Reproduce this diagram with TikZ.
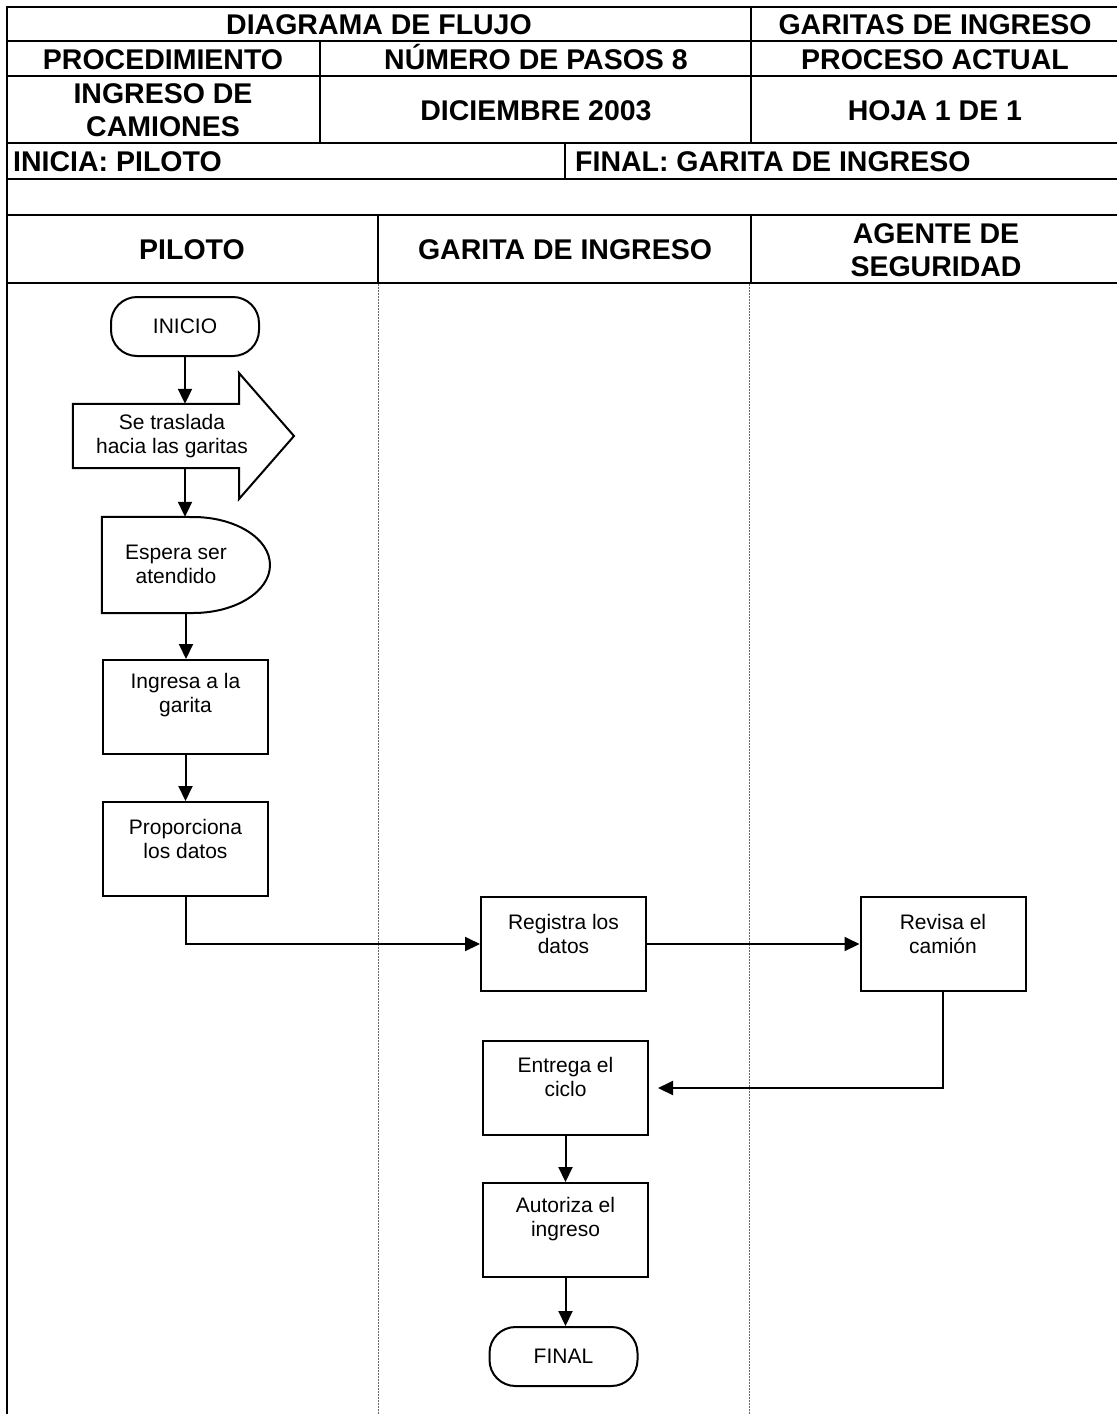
\documentclass[tikz,border=0pt]{standalone}
\usepackage{fontspec}
\setmainfont{Liberation Sans}
\usetikzlibrary{arrows.meta}
\begin{document}
\begin{tikzpicture}[x=1pt,y=-1pt,
 hdr/.style={font=\fontsize{28.5}{33}\selectfont\bfseries, align=center, inner sep=0pt},
 hdrone/.style={hdr, text height=20.4pt, text depth=0pt},
 tbl/.style={line width=2.6pt},
 box/.style={draw, line width=2pt, minimum width=165pt, minimum height=94pt, inner sep=0pt},
 txt/.style={font=\fontsize{21}{24}\selectfont, align=center, inner sep=0pt},
 term/.style={draw, line width=2pt, rounded corners=26pt, minimum width=148pt, minimum height=59pt, font=\fontsize{21}{24}\selectfont, inner sep=0pt},
 conn/.style={line width=2pt, -{Triangle[length=15pt,width=14pt]}},
 lane/.style={line width=0.8pt, dash pattern=on 1.5pt off 1.5pt, gray!80!black}
]
\useasboundingbox (0,0) rectangle (1117,1414);
% table lines
\foreach \yy in {7,41,76,143,179,215,283}{\draw[tbl] (7,\yy) -- (1117,\yy);}
\draw[tbl] (7,5.7) -- (7,1414);
\draw[tbl] (751,7) -- (751,143);
\draw[tbl] (320,41) -- (320,143);
\draw[tbl] (565,143) -- (565,179);
\draw[tbl] (378,215) -- (378,283);
\draw[tbl] (751,215) -- (751,283);
% lanes
\draw[lane] (378,284) -- (378,1414);
\draw[lane] (749,284) -- (749,1414);
% header text
\node[hdrone] (h1) at (379,24) {DIAGRAMA DE FLUJO};
\node[hdrone] (h2) at (935,24) {GARITAS DE INGRESO};
\node[hdrone] (h3) at (163,59) {PROCEDIMIENTO};
\node[hdrone] (h4) at (536,59) {NÚMERO DE PASOS 8};
\node[hdrone] (h5) at (935,59) {PROCESO ACTUAL};
\node[hdr] (h6) at (163,110) {INGRESO DE\\CAMIONES};
\node[hdrone] (h7) at (536,110) {DICIEMBRE 2003};
\node[hdrone] (h8) at (935,110) {HOJA 1 DE 1};
\node[hdrone, anchor=west] (h9) at (13,161) {INICIA: PILOTO};
\node[hdrone, anchor=west] (h10) at (575,161) {FINAL: GARITA DE INGRESO};
\node[hdrone] (l1) at (192,249) {PILOTO};
\node[hdrone] (l2) at (565,249) {GARITA DE INGRESO};
\node[hdr] (l3) at (936,250) {AGENTE DE\\SEGURIDAD};
% flow
\node[term] (ini) at (185,326.5) {INICIO};
\node[minimum width=166pt, minimum height=64pt, inner sep=0pt] (trb) at (156,436) {};
\draw[line width=2pt, line join=miter] (trb.north west) -- (trb.north east) -- (239,373) -- (294,436) -- (239,499) -- (trb.south east) -- (trb.south west) -- cycle;
\node[txt] (trt) at (172,436) {Se traslada\\hacia las garitas};
\node[minimum width=168pt, minimum height=96pt, inner sep=0pt] (esp) at (186,565) {};
\draw[line width=2pt] (esp.south west) -- (esp.north west) -- (193,517) arc[start angle=90, end angle=-90, x radius=77pt, y radius=48pt] -- cycle;
\node[txt] (est) at (176,564) {Espera ser\\atendido};
\node[box] (ing) at (185.5,707) {};
\node[txt] (ingt) at ([yshift=12pt]ing.center) {Ingresa a la\\garita};
\node[box] (pro) at (185.5,849) {};
\node[txt] (prot) at ([yshift=10.5pt]pro.center) {Proporciona\\los datos};
\node[box] (reg) at (563.5,944) {};
\node[txt] (regt) at ([yshift=10.5pt]reg.center) {Registra los\\datos};
\node[box] (rev) at (943,944) {};
\node[txt] (revt) at ([yshift=10.5pt]rev.center) {Revisa el\\camión};
\node[box] (ent) at (565.5,1088) {};
\node[txt] (entt) at ([yshift=11pt]ent.center) {Entrega el\\ciclo};
\node[box] (aut) at (565.5,1230) {};
\node[txt] (autt) at ([yshift=10.5pt]aut.center) {Autoriza el\\ingreso};
\node[term] (fin) at (563.5,1356.5) {FINAL};
% connectors
\draw[conn] (ini.south) -- (ini.south |- trb.north);
\draw[conn] (ini.south |- trb.south) -- (ini.south |- esp.north);
\draw[conn] (esp.south) -- (esp.south |- ing.north);
\draw[conn] (ing.south) -- (pro.north);
\draw[conn] (pro.south) |- (reg.west);
\draw[conn] (reg.east) -- (rev.west);
\draw[conn, shorten >=9pt] (rev.south) |- (ent.east);
\draw[conn] (ent.south) -- (aut.north);
\draw[conn] (aut.south) -- (aut.south |- fin.north);
\end{tikzpicture}
\end{document}
